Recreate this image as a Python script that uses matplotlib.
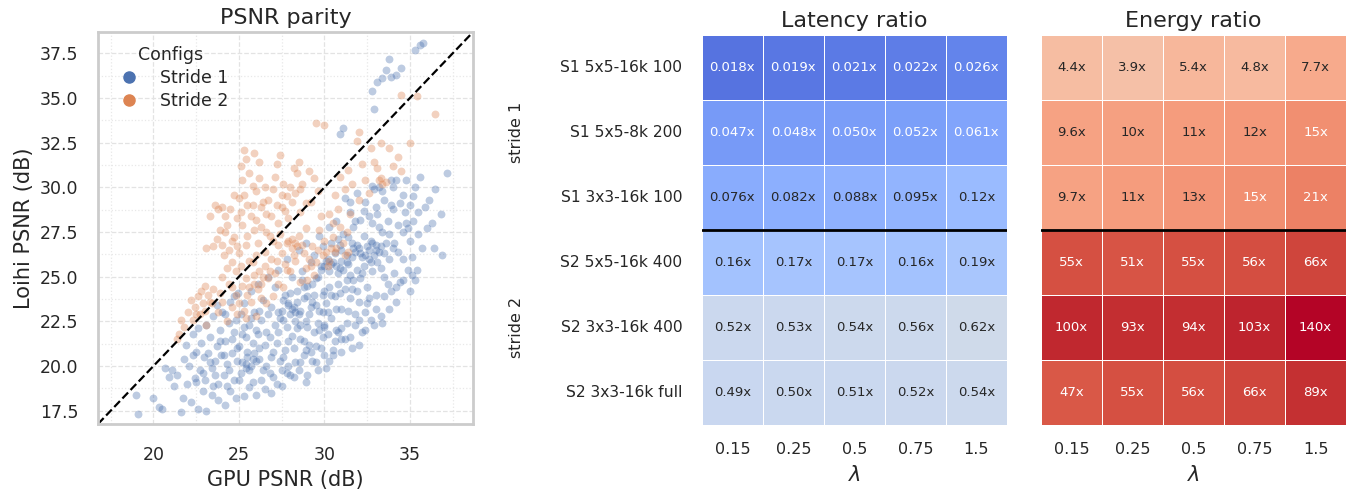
import numpy as np
import matplotlib
matplotlib.use('Agg')
import matplotlib.pyplot as plt
import seaborn as sns
from matplotlib.colors import LogNorm
from matplotlib.lines import Line2D
from matplotlib.ticker import MultipleLocator, AutoMinorLocator

# --- Data ---
# PSNR parity points (GPU PSNR, Loihi PSNR)
stride1_pts = [
    (19.0, 18.4), (19.1, 17.3), (20.0, 18.2), (20.3, 17.7), (20.5, 17.6), (20.7, 19.9), (20.9, 19.4),
    (21.1, 19.8), (21.2, 18.9), (21.4, 19.5), (21.6, 17.4), (21.7, 18.2), (21.8, 20.4), (21.9, 21.2), (21.95, 19.0),
    (22.1, 20.0), (22.2, 18.0), (22.3, 21.8), (22.4, 19.3), (22.5, 20.8), (22.6, 17.6), (22.6, 22.1), (22.7, 19.8),
    (22.8, 21.3), (22.9, 18.6), (22.95, 20.5),
    (23.0, 19.2), (23.1, 17.5), (23.1, 22.3), (23.2, 20.7), (23.3, 21.6), (23.4, 18.4), (23.4, 19.9), (23.5, 22.8),
    (23.6, 20.3), (23.7, 21.1), (23.8, 19.0), (23.8, 18.1), (23.9, 22.0), (23.95, 20.6),
    (24.0, 23.0), (24.1, 19.5), (24.2, 21.4), (24.2, 17.8), (24.3, 20.1), (24.4, 22.4), (24.5, 18.6), (24.5, 23.6),
    (24.6, 20.7), (24.7, 21.9), (24.7, 19.2), (24.8, 22.6), (24.8, 18.2), (24.9, 20.3), (24.95, 24.1),
    (25.0, 21.1), (25.1, 19.6), (25.1, 22.9), (25.2, 20.2), (25.3, 18.3), (25.3, 23.5), (25.4, 21.6), (25.4, 19.9),
    (25.5, 20.5), (25.6, 22.3), (25.6, 18.8), (25.7, 24.2), (25.7, 20.0), (25.8, 21.3), (25.8, 19.1), (25.9, 23.0),
    (25.9, 20.7), (26.0, 22.0),
    (26.0, 18.4), (26.1, 21.8), (26.1, 24.6), (26.2, 20.4), (26.3, 22.6), (26.3, 19.2), (26.4, 23.7), (26.5, 21.2),
    (26.5, 18.7), (26.6, 20.0), (26.7, 22.9), (26.7, 25.0), (26.8, 19.6), (26.8, 21.6), (26.9, 23.3), (26.9, 18.5),
    (27.0, 20.8), (27.1, 22.3), (27.1, 24.4), (27.2, 19.0), (27.3, 21.9), (27.3, 25.4), (27.4, 20.3), (27.5, 23.1),
    (27.5, 18.9), (27.6, 22.6), (27.7, 24.0), (27.7, 20.9), (27.8, 19.6), (27.8, 26.0), (27.9, 21.4), (27.9, 23.5),
    (28.0, 22.9), (28.0, 19.5), (28.1, 25.0), (28.2, 21.0), (28.2, 23.3), (28.3, 20.2), (28.4, 24.2), (28.4, 22.1),
    (28.5, 26.5), (28.5, 19.8), (28.6, 23.1), (28.6, 21.5), (28.7, 25.3), (28.8, 20.6), (28.8, 23.8), (28.9, 22.5),
    (28.9, 26.9), (28.95, 19.1),
    (29.0, 24.5), (29.1, 21.2), (29.1, 22.9), (29.2, 25.8), (29.3, 20.3), (29.3, 23.6), (29.4, 26.2), (29.4, 21.9),
    (29.5, 24.9), (29.6, 22.4), (29.6, 19.8), (29.7, 27.3), (29.7, 23.1), (29.8, 25.4), (29.8, 21.0), (29.9, 24.0),
    (29.9, 26.7), (29.95, 22.2),
    (30.0, 25.6), (30.0, 20.6), (30.1, 23.5), (30.2, 26.0), (30.2, 21.8), (30.3, 24.4), (30.3, 27.8), (30.4, 22.7),
    (30.5, 25.8), (30.5, 20.9), (30.6, 26.3), (30.6, 23.9), (30.7, 28.1), (30.7, 22.0), (30.8, 25.2), (30.8, 24.6),
    (30.9, 26.8), (30.9, 33.0), (30.95, 21.5),
    (31.0, 25.9), (31.0, 23.2), (31.1, 27.4), (31.1, 33.3), (31.2, 24.3), (31.2, 29.4), (31.3, 22.4), (31.3, 26.2),
    (31.4, 25.7), (31.5, 28.6), (31.5, 23.8), (31.6, 26.9), (31.6, 21.0), (31.7, 24.8), (31.7, 27.8), (31.8, 26.4),
    (31.8, 22.9), (31.9, 25.4), (31.9, 29.7),
    (32.0, 26.6), (32.0, 23.6), (32.1, 28.2), (32.1, 24.9), (32.2, 26.1), (32.2, 21.9), (32.3, 27.3), (32.3, 25.6),
    (32.4, 29.2), (32.4, 23.0), (32.5, 26.7), (32.5, 24.4), (32.6, 28.4), (32.6, 26.0), (32.7, 22.6), (32.7, 27.0),
    (32.8, 35.4), (32.8, 25.3), (32.9, 29.9), (32.9, 34.4),
    (33.0, 26.8), (33.0, 24.0), (33.1, 28.5), (33.1, 35.9), (33.2, 26.4), (33.2, 30.0), (33.3, 25.5), (33.3, 22.8),
    (33.4, 27.5), (33.4, 36.1), (33.5, 29.3), (33.5, 25.0), (33.6, 26.9), (33.6, 36.6), (33.7, 28.1), (33.7, 24.6),
    (33.8, 37.2), (33.8, 27.4), (33.9, 30.4), (33.9, 36.2),
    (34.0, 26.6), (34.0, 28.8), (34.1, 25.2), (34.2, 36.3), (34.2, 30.4), (34.3, 27.9), (34.4, 24.7), (34.4, 29.1),
    (34.5, 36.7), (34.6, 26.0), (34.7, 28.6), (34.8, 30.4), (34.9, 25.4), (34.9, 27.7),
    (35.0, 24.2), (35.0, 29.0), (35.1, 26.1), (35.2, 28.1), (35.3, 30.0), (35.3, 37.7), (35.4, 25.4), (35.5, 27.4),
    (35.6, 30.6), (35.6, 38.0), (35.7, 26.6), (35.8, 38.1), (35.9, 28.9),
    (36.1, 29.3), (36.3, 28.0), (36.5, 29.9), (36.8, 28.5), (36.9, 26.2), (37.2, 30.8),
    (30.4, 25.7), (30.9, 25.5), (31.3, 25.8), (31.6, 26.1), (32.1, 26.3), (32.6, 26.5), (33.0, 26.5), (30.1, 25.9),
    (29.8, 25.6), (31.9, 26.8), (32.9, 26.2), (31.1, 25.4), (28.1, 23.2), (28.3, 23.0), (28.5, 22.9), (27.9, 23.4),
    (25.4, 20.1), (25.6, 19.8), (26.0, 20.3), (29.4, 24.0), (29.0, 23.9), (28.8, 24.4),
    (22.3, 20.6), (22.9, 19.6), (23.3, 20.2), (23.6, 19.5), (23.9, 21.4), (24.1, 20.6), (24.4, 19.8), (24.6, 21.5),
    (24.9, 21.0), (25.2, 21.8), (25.5, 20.8), (25.8, 20.4), (25.0, 19.2), (24.3, 18.9), (23.5, 18.9), (22.5, 19.1),
    (25.3, 22.2), (26.2, 21.0), (26.6, 21.9), (26.9, 20.5), (27.2, 21.3), (27.6, 20.5), (26.4, 19.8), (27.0, 19.4),
    (27.4, 22.7), (26.2, 23.1), (25.7, 22.7), (24.2, 22.9), (23.7, 23.4), (24.7, 23.9),
    (27.8, 22.2), (28.1, 21.7), (28.3, 22.5), (28.6, 22.3), (28.8, 21.4), (29.0, 22.2), (29.2, 23.3), (29.5, 23.4),
    (29.7, 22.0), (29.9, 23.0), (28.4, 23.6), (28.0, 24.1), (27.6, 23.7), (27.3, 23.0), (28.7, 24.8), (29.3, 24.6),
    (29.6, 25.0), (30.0, 24.2), (30.2, 23.0), (30.4, 24.0), (30.0, 22.3), (29.2, 20.8), (28.6, 20.2), (27.9, 20.0),
    (29.9, 21.6), (30.6, 21.4), (30.3, 20.3), (31.0, 22.1), (31.4, 23.1), (31.2, 21.5), (30.7, 23.2), (28.2, 19.4),
    (27.5, 19.8),
    (30.3, 25.3), (30.7, 25.6), (31.0, 26.5), (31.3, 24.8), (31.5, 25.1), (31.7, 26.6), (31.9, 24.2), (32.2, 25.2),
    (32.4, 26.2), (32.7, 25.8), (32.8, 26.9), (33.1, 25.8), (33.3, 26.7), (33.5, 26.3), (33.8, 26.0), (34.1, 26.9),
    (34.3, 26.4), (34.6, 27.5), (34.8, 28.0), (33.2, 27.8), (32.8, 28.0), (32.3, 28.7), (31.8, 28.1), (31.4, 27.2),
    (30.8, 27.1), (30.4, 26.9), (30.9, 24.1), (31.6, 24.3), (32.0, 22.6), (32.5, 23.5), (33.0, 23.2), (33.5, 23.9),
    (34.2, 24.4), (35.5, 28.6), (35.0, 27.0), (34.6, 29.6), (33.9, 29.0), (33.4, 29.8), (32.8, 30.1), (31.5, 29.2),
    (35.2, 29.5), (36.0, 27.7), (36.4, 26.6), (34.0, 30.0), (33.0, 28.9),
    (29.0, 19.5), (29.5, 20.2), (30.1, 19.9), (30.5, 20.6), (31.0, 20.8), (31.5, 21.6), (32.0, 21.2), (32.4, 22.0),
    (32.9, 22.3), (33.4, 22.4), (33.8, 23.2), (34.2, 23.6), (30.8, 21.9), (31.8, 22.3), (28.9, 20.9), (29.5, 21.1),
    (32.6, 23.8), (33.9, 24.2), (34.6, 24.8), (35.1, 25.1), (35.3, 24.8),
]

stride2_pts = [
    (21.4, 21.5), (21.5, 21.8), (21.6, 22.6), (21.8, 22.2), (22.0, 23.0), (22.2, 23.7), (22.3, 22.6), (22.4, 23.3),
    (22.6, 23.9), (22.7, 22.9), (22.8, 24.2), (22.9, 23.5), (23.0, 23.1), (23.1, 22.3), (23.2, 24.0), (23.3, 23.6),
    (23.6, 29.0), (23.8, 28.8), (23.3, 28.4), (24.0, 28.9), (23.9, 27.6), (24.2, 27.5), (23.1, 26.6), (23.5, 26.7),
    (24.1, 26.2), (24.4, 26.5), (24.6, 25.8), (24.0, 25.0), (24.7, 27.2), (24.9, 28.3), (24.5, 28.8), (25.0, 29.4),
    (25.2, 30.4), (25.1, 31.2), (25.3, 32.1), (25.4, 31.6), (25.6, 30.8), (25.8, 30.1), (25.5, 29.0), (25.7, 28.4),
    (25.9, 27.6), (25.2, 27.9), (25.4, 26.8), (25.0, 26.3), (24.8, 25.3), (25.6, 25.9), (26.0, 29.8), (26.2, 30.5),
    (26.4, 29.2), (26.6, 28.5), (26.3, 27.8), (26.8, 27.3), (26.1, 26.9), (26.5, 26.4), (27.0, 29.9), (27.2, 31.3),
    (27.4, 31.8), (27.1, 30.6), (27.6, 30.2), (27.8, 29.5), (27.5, 28.9), (27.9, 28.3), (27.3, 28.0), (28.1, 29.2),
    (28.4, 30.8), (28.2, 31.1), (28.5, 31.4), (28.7, 30.2), (28.9, 29.1), (28.6, 28.6), (29.1, 30.9), (29.4, 30.5),
    (29.6, 29.8), (29.2, 29.2),
    (23.8, 23.0), (24.3, 22.5), (24.6, 23.3), (24.9, 22.9), (25.2, 24.5), (25.5, 24.0), (25.7, 23.6), (25.9, 25.1),
    (26.1, 24.3), (26.3, 23.8), (26.5, 25.6), (26.7, 24.9), (26.9, 26.0), (27.1, 25.2), (27.3, 24.6), (27.5, 26.3),
    (27.7, 25.7), (27.9, 27.0), (28.1, 26.6), (28.3, 25.9), (28.5, 27.3), (28.7, 26.8), (28.9, 25.5), (29.1, 26.0),
    (29.3, 26.7), (29.5, 25.8), (29.7, 27.6), (29.9, 26.2), (30.1, 26.4), (30.3, 25.9), (30.5, 27.2), (30.7, 26.6),
    (30.9, 27.8), (31.1, 26.9), (31.3, 27.5), (25.3, 23.1), (26.0, 22.8), (25.8, 25.8), (26.4, 25.0), (27.0, 23.9),
    (27.6, 24.4), (28.0, 25.3), (28.6, 24.7), (29.0, 24.8), (29.4, 25.1), (23.4, 23.5), (23.9, 24.1), (24.4, 24.6),
    (28.3, 26.9), (28.1, 27.1), (28.4, 26.7), (30.4, 26.6), (30.6, 26.4), (31.4, 26.4), (31.2, 26.2), (27.8, 26.9),
    (26.2, 25.3), (25.9, 24.6), (25.4, 24.9), (24.8, 24.0),
    (29.5, 33.6), (30.0, 33.5), (30.3, 28.5), (30.6, 29.6), (30.9, 30.6), (31.2, 29.9), (31.4, 31.0), (31.6, 30.2),
    (31.9, 32.6), (32.0, 33.1), (32.2, 31.3), (32.4, 30.4), (32.7, 32.2), (32.9, 31.4), (33.1, 31.1), (33.3, 30.5),
    (33.4, 30.2), (33.6, 30.3), (33.8, 32.2), (34.0, 31.2), (34.3, 31.7), (34.5, 30.9), (33.3, 32.5), (32.6, 29.7),
    (34.5, 35.2), (35.0, 32.5), (35.4, 35.1), (36.5, 34.1), (32.0, 29.3), (31.5, 28.5), (30.8, 28.8), (33.2, 30.4),
    (24.3, 27.9), (24.6, 27.0), (24.9, 26.7), (25.1, 28.6), (25.3, 29.6), (25.5, 27.3), (25.8, 29.0), (26.0, 28.2),
    (26.3, 28.9), (26.5, 30.0), (26.7, 29.3), (26.9, 28.4), (27.2, 29.0), (27.5, 29.6), (27.7, 28.7), (28.0, 30.0),
    (28.3, 29.7), (28.6, 29.9), (26.2, 31.4), (25.9, 31.9), (24.7, 29.6), (24.2, 28.4), (24.0, 26.8), (23.7, 27.1),
    (24.3, 25.5), (25.1, 25.6), (26.6, 27.5), (27.0, 27.0), (27.3, 26.8), (26.0, 26.2), (24.6, 24.4), (25.0, 23.5),
    (25.6, 24.4), (26.3, 24.6), (26.8, 25.3), (27.2, 25.9), (27.8, 25.4), (28.2, 26.2), (28.8, 26.3), (29.2, 25.6),
    (29.6, 26.5), (30.0, 27.0), (30.2, 25.6), (24.0, 23.6), (23.5, 24.3), (22.5, 22.9), (23.0, 24.5), (25.4, 22.7),
    (26.6, 23.5), (27.4, 27.4), (28.9, 27.7), (29.8, 28.4), (30.5, 28.0),
]

configs = ['S1 5x5-16k 100', 'S1 5x5-8k 200', 'S1 3x3-16k 100',
           'S2 5x5-16k 400', 'S2 3x3-16k 400', 'S2 3x3-16k full']
lambdas = ['0.15', '0.25', '0.5', '0.75', '1.5']

latency_ratio = np.array([
    [0.018, 0.019, 0.021, 0.022, 0.026],
    [0.047, 0.048, 0.050, 0.052, 0.061],
    [0.076, 0.082, 0.088, 0.095, 0.12],
    [0.16, 0.17, 0.17, 0.16, 0.19],
    [0.52, 0.53, 0.54, 0.56, 0.62],
    [0.49, 0.50, 0.51, 0.52, 0.54],
])

energy_ratio = np.array([
    [4.4, 3.9, 5.4, 4.8, 7.7],
    [9.6, 10, 11, 12, 15],
    [9.7, 11, 13, 15, 21],
    [55, 51, 55, 56, 66],
    [100, 93, 94, 103, 140],
    [47, 55, 56, 66, 89],
])


def fmt_ratio(v):
    if v < 0.1:
        return f"{v:.3f}x"
    if v < 1:
        return f"{v:.2f}x"
    if v < 10:
        return f"{v:.1f}x"
    return f"{v:.0f}x"


# --- Style ---
sns.set_theme(style='whitegrid')
plt.rcParams['font.family'] = ['DejaVu Sans']
TXT = '#262626'

fig = plt.figure(figsize=(13.55, 4.98), dpi=100)

# --- PSNR parity scatter ---
ax = fig.add_axes([0.0723, 0.1486, 0.2768, 0.787])
s1 = np.array(stride1_pts)
s2 = np.array(stride2_pts)
c1, c2 = sns.color_palette('deep')[0], sns.color_palette('deep')[1]
ax.scatter(s1[:, 0], s1[:, 1], s=32, color=c1, alpha=0.37, linewidths=0)
ax.scatter(s2[:, 0], s2[:, 1], s=32, color=c2, alpha=0.37, linewidths=0)

allv = np.concatenate([s1.ravel(), s2.ravel()])
lo, hi = allv.min() - 0.55, allv.max() + 0.6
ax.set_xlim(lo, hi)
ax.set_ylim(lo, hi)
ax.axline((lo, lo), slope=1, color='black', ls='--', lw=1.6)

ax.xaxis.set_major_locator(MultipleLocator(5))
ax.yaxis.set_major_locator(MultipleLocator(2.5))
ax.xaxis.set_minor_locator(AutoMinorLocator(2))
ax.yaxis.set_minor_locator(AutoMinorLocator(2))
ax.grid(which='major', ls='--', lw=0.9, color='#e3e3e3')
ax.grid(which='minor', ls=':', lw=0.9, color='#e8e8e8')
ax.tick_params(which='both', length=0, labelsize=12.5, colors=TXT)
ax.tick_params(axis='x', pad=16)
ax.tick_params(axis='y', pad=14)
for sp in ax.spines.values():
    sp.set_color('#cccccc')
    sp.set_linewidth(2)

ax.set_xlabel('GPU PSNR (dB)', fontsize=15, color=TXT, labelpad=4)
ax.set_ylabel('Loihi PSNR (dB)', fontsize=15, color=TXT)
ax.set_title('PSNR parity', fontsize=16, color=TXT)

handles = [Line2D([], [], marker='o', ls='', color=c1, markersize=8, label='Stride 1'),
           Line2D([], [], marker='o', ls='', color=c2, markersize=8, label='Stride 2')]
leg = ax.legend(handles=handles, title='Configs', loc='upper left', frameon=False,
                fontsize=12.5, title_fontsize=12.5, borderaxespad=0.5, handletextpad=0.8,
                labelspacing=0.3, borderpad=0.3)
for t in leg.get_texts():
    t.set_color(TXT)
leg.get_title().set_color(TXT)

# --- Heatmaps ---
vmax = max(energy_ratio.max(), 1 / latency_ratio.min())
norm = LogNorm(vmin=1 / vmax, vmax=vmax)

ax_lat = fig.add_axes([0.518, 0.1466, 0.2251, 0.7831])
ax_en = fig.add_axes([0.7683, 0.1466, 0.2251, 0.7831])

for hax, data, title in [(ax_lat, latency_ratio, 'Latency ratio'),
                         (ax_en, energy_ratio, 'Energy ratio')]:
    sns.heatmap(data, ax=hax, cmap='coolwarm', norm=norm, cbar=False,
                linewidths=0.7, linecolor='white')
    for i in range(data.shape[0]):
        for j in range(data.shape[1]):
            v = data[i, j]
            strength = abs(np.log(v)) / np.log(vmax)
            col = 'white' if strength > 0.53 else TXT
            hax.text(j + 0.5, i + 0.5, fmt_ratio(v), ha='center', va='center',
                     fontsize=9.5, color=col)
    hax.axhline(3, color='black', lw=2)
    hax.set_xticks(np.arange(len(lambdas)) + 0.5)
    hax.set_xticklabels(lambdas, fontsize=11.5, color=TXT)
    hax.set_xlabel(r'$\lambda$', fontsize=15, color=TXT, labelpad=6)
    hax.set_title(title, fontsize=16, color=TXT)
    hax.tick_params(length=0)
    hax.tick_params(axis='x', pad=12)

ax_lat.set_yticks(np.arange(len(configs)) + 0.5)
ax_lat.set_yticklabels(configs, fontsize=11.2, color=TXT, rotation=0)
ax_lat.tick_params(axis='y', pad=14)
ax_en.set_yticks([])

ax_lat.text(-0.607, 1.5, 'stride 1', rotation=90, ha='center', va='center', fontsize=11.5,
            color=TXT, transform=ax_lat.get_yaxis_transform())
ax_lat.text(-0.607, 4.5, 'stride 2', rotation=90, ha='center', va='center', fontsize=11.5,
            color=TXT, transform=ax_lat.get_yaxis_transform())

fig.savefig('out.png', dpi=100)
